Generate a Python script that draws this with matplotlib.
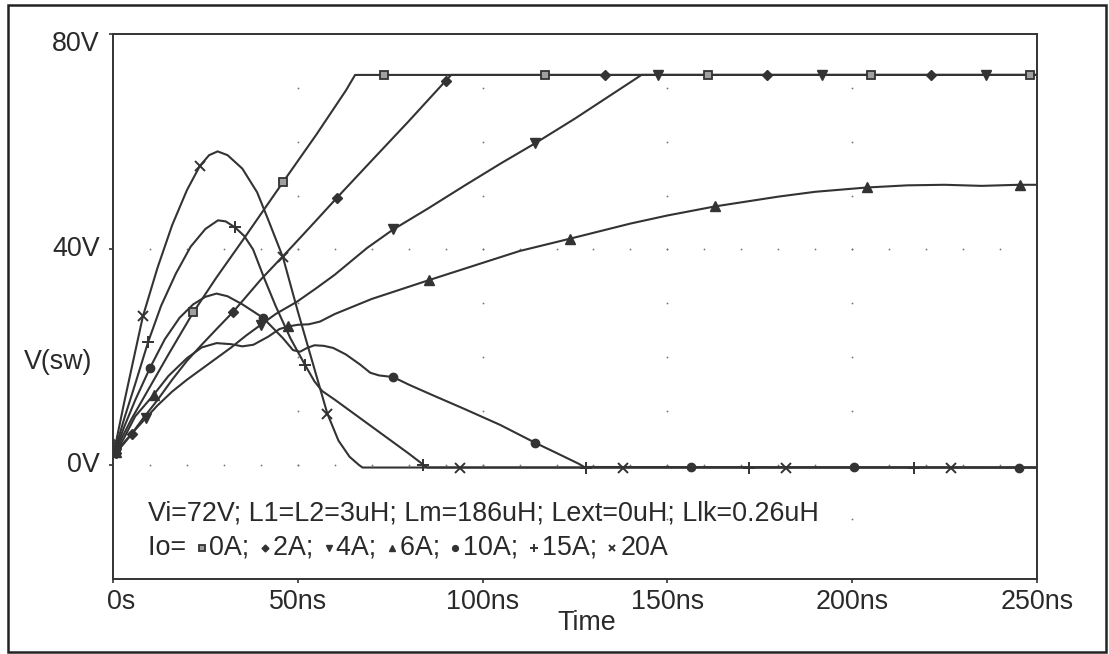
import numpy as np
import matplotlib
matplotlib.use("Agg")
import matplotlib.pyplot as plt
from matplotlib.lines import Line2D
from matplotlib.patches import Rectangle
from matplotlib.offsetbox import TextArea, DrawingArea, HPacker, AnnotationBbox

plt.rcParams['font.family'] = ['Liberation Sans', 'DejaVu Sans']

# ---- switch-node voltage V(sw) vs time, one trace per load current ----
t_0A = [0, 2, 5, 10, 15, 21.7, 28, 35, 46, 55, 63, 65.5, 250]
v_0A = [1.5, 4.5, 8.5, 14.5, 20.5, 28.3, 34.8, 41.6, 52.5, 61.3, 69.5, 72.4, 72.4]

t_2A = [0, 2.5, 5.1, 8, 12, 16, 20, 24, 28, 32.5, 40, 48.4, 55, 60.6, 70, 80, 90, 91.5, 250]
v_2A = [1.5, 3.8, 5.8, 8.5, 12, 15.8, 19.3, 22.3, 25.2, 28.4, 34.4, 40.5, 45.4, 49.6, 56.5, 63.8, 71.3, 72.4, 72.4]

t_4A = [0, 3, 6, 8.9, 12, 16, 20, 25, 28, 32, 36, 40, 44, 49.8, 55, 60, 68.8, 75.8, 85, 95, 105,
        114.2, 125, 135, 141, 143, 250]
v_4A = [1.5, 4, 6.5, 8.7, 11, 13.6, 15.8, 18.3, 19.8, 21.8, 24, 26, 28, 30.3, 32.8, 35.3, 40.3, 43.7,
        47.5, 51.8, 56, 59.7, 64.3, 68.8, 71.5, 72.4, 72.4]

t_6A = [0, 3, 6, 11, 15, 20, 24, 28, 32, 35, 38, 42, 45, 47.4, 50, 53, 56, 60, 70, 85.5, 100, 110,
        123.7, 140, 150, 163, 180, 190, 204, 215, 225, 235, 245, 250]
v_6A = [1.5, 5, 9, 13, 16.5, 19.8, 21.8, 22.6, 22.4, 22, 22.3, 23.8, 25.2, 25.7, 26, 26.1, 26.6, 28,
        30.8, 34.3, 37.5, 39.7, 42, 44.8, 46.3, 48, 49.8, 50.7, 51.5, 51.9, 52, 51.8, 52, 52]

t_10A = [0, 3, 6, 10, 14, 18, 21.7, 25, 28, 31, 35, 40.6, 46, 48.7, 50.6, 52.5, 54.5, 57, 59.6, 63,
         66.9, 69.6, 72, 75.8, 80, 86.6, 95, 104.8, 114.2, 120, 126, 127.5, 250]
v_10A = [1.5, 7, 12, 18, 23.3, 27.3, 29.8, 31.2, 31.8, 31.3, 29.8, 27.3, 23.5, 21.3, 21, 21.7, 22.2,
         22.1, 21.7, 20.5, 18.6, 17.1, 16.6, 16.3, 14.9, 12.9, 10.4, 7.4, 4.1, 2.2, 0.2, -0.4, -0.5]

t_15A = [0, 3, 6, 9.5, 13, 17, 21, 25, 28.4, 30.5, 33, 35.5, 37.9, 41, 44, 48, 52, 54.5, 56.6, 60,
         65, 70, 75, 80, 84, 85, 250]
v_15A = [1.5, 8.5, 15, 22.8, 29.5, 35.5, 40.5, 43.8, 45.4, 45.2, 44.1, 42.5, 40, 34.5, 29.5, 23.5,
         18.5, 15.5, 13.7, 12.1, 9.6, 7.1, 4.6, 2.1, 0, -0.5, -0.5]

t_20A = [0, 3, 6, 8.1, 12, 16, 20, 23.5, 26, 28.3, 31, 35, 39, 42, 46, 50, 54, 58, 61, 64, 66.5,
         67.5, 250]
v_20A = [1.5, 11.5, 21, 27.6, 36.5, 44.5, 51, 55.5, 57.5, 58.2, 57.5, 55, 50.6, 45.5, 38.5, 28.5,
         19, 9.5, 4.5, 1.5, 0, -0.5, -0.5]

# times (ns) at which each trace carries its symbol
mk_0A = [0.8, 21.7, 46, 73.4, 117, 161, 205, 248]
mk_2A = [0.8, 5.1, 32.5, 60.6, 90, 133, 177, 221.4]
mk_4A = [0.8, 8.9, 40, 75.8, 114.2, 147.5, 191.7, 236.3]
mk_6A = [0.8, 11, 47.4, 85.5, 123.7, 163, 204, 245.5]
mk_10A = [0.8, 10, 40.6, 75.8, 114.2, 156.5, 200.6, 245]
mk_15A = [0.8, 9.5, 33, 52, 84, 128, 172, 216.6]
mk_20A = [0.8, 8.1, 23.5, 46, 58, 94, 138, 182, 226.6]

series_labels = ["0A", "2A", "4A", "6A", "10A", "15A", "20A"]

x_ticks = [0, 50, 100, 150, 200, 250]
x_tick_labels = ["0s", "50ns", "100ns", "150ns", "200ns", "250ns"]
y_ticks = [0, 40, 80]
y_tick_labels = ["0V", "40V", "80V"]

title_line = "Vi=72V; L1=L2=3uH; Lm=186uH; Lext=0uH; Llk=0.26uH"

# ---- styling ----
W, H = 1109, 654
ink = "#333333"
txt = "#2a2a2a"
fs = 19.4

fig = plt.figure(figsize=(W / 100, H / 100), dpi=100)
fig.patch.set_facecolor("white")
ax = fig.add_axes([113 / W, 1 - 579 / H, (1037 - 113) / W, (579 - 34) / H])
ax.set_xlim(0, 250)
ax.set_ylim(-21.2, 80)

for s in ax.spines.values():
    s.set_color(ink)
    s.set_linewidth(1.4)

ax.set_xticks(x_ticks)
ax.set_yticks(y_ticks)
ax.tick_params(direction="out", length=3, width=1.2, color=ink,
               labelbottom=False, labelleft=False)

# dotted grid
gx = [50, 100, 150, 200]
for x in gx:
    yy = np.arange(-10, 80, 10)
    ax.plot(np.full_like(yy, x, dtype=float), yy, ls="none", marker="o", ms=1.3,
            mfc="#777", mec="none", zorder=1)
for y in [0, 40]:
    xx = np.arange(10, 250, 10)
    ax.plot(xx, np.full_like(xx, y, dtype=float), ls="none", marker="o", ms=1.3,
            mfc="#777", mec="none", zorder=1)

traces = [
    (t_0A, v_0A, mk_0A, dict(marker="s", ms=6, mfc="#a0a0a0", mec=ink, mew=1.3)),
    (t_2A, v_2A, mk_2A, dict(marker="D", ms=5, mfc=ink, mec=ink)),
    (t_4A, v_4A, mk_4A, dict(marker="v", ms=6.5, mfc=ink, mec=ink)),
    (t_6A, v_6A, mk_6A, dict(marker="^", ms=6.5, mfc=ink, mec=ink)),
    (t_10A, v_10A, mk_10A, dict(marker="o", ms=6, mfc=ink, mec=ink)),
    (t_15A, v_15A, mk_15A, dict(marker="+", ms=8, mec=ink, mew=1.4)),
    (t_20A, v_20A, mk_20A, dict(marker="x", ms=6.5, mec=ink, mew=1.4)),
]

for t, v, mk, style in traces:
    ax.plot(t, v, color=ink, lw=1.5, zorder=3, solid_joinstyle="round")
    ax.plot(mk, np.interp(mk, t, v), ls="none", zorder=4, **style)

# tick labels
for val, lab in zip(x_ticks, x_tick_labels):
    ha = "left" if val == x_ticks[0] else "center"
    dx = -4 if val == x_ticks[0] else 0
    ax.annotate(lab, xy=(val, 0), xycoords=("data", "axes fraction"),
                xytext=(dx, -16.5), textcoords="offset points",
                ha=ha, va="center", fontsize=fs, color=txt)
for val, lab in zip(y_ticks, y_tick_labels):
    dy = -7 if val == y_ticks[-1] else 0
    ax.annotate(lab, xy=(0, val), xycoords=("axes fraction", "data"),
                xytext=(-9.4, dy), textcoords="offset points",
                ha="right", va="center", fontsize=fs, color=txt)

fig.text(58 / W, 1 - 362 / H, "V(sw)", ha="center", va="center", fontsize=fs, color=txt)
fig.text(587 / W, 1 - 623 / H, "Time", ha="center", va="center", fontsize=fs, color=txt)

# parameter line
fig.text(148 / W, 1 - 513 / H, title_line, ha="left", va="center", fontsize=fs, color=txt)

# symbol key
items = [TextArea("Io= ", textprops=dict(fontsize=fs, color=txt))]
for i, (lab, (_, _, _, style)) in enumerate(zip(series_labels, traces)):
    da = DrawingArea(7, 10, 0, 0)
    st = dict(style)
    st["ms"] = st["ms"] * 0.7
    da.add_artist(Line2D([3.5], [5], ls="none", **st))
    items.append(da)
    sep = "; " if i < len(series_labels) - 1 else ""
    items.append(TextArea(lab + sep, textprops=dict(fontsize=fs, color=txt)))
box = HPacker(children=items, align="center", pad=0, sep=2.2)
ab = AnnotationBbox(box, (148, H - 548), xycoords="figure pixels",
                    box_alignment=(0, 0.5), frameon=False, pad=0)
fig.add_artist(ab)

# outer frame
fig.add_artist(Rectangle((8 / W, 1 - 652 / H), (1106 - 8) / W, (652 - 5) / H,
                         transform=fig.transFigure, fill=False, lw=1.8, ec="#222"))

fig.savefig("out.png", dpi=100, facecolor="white")
